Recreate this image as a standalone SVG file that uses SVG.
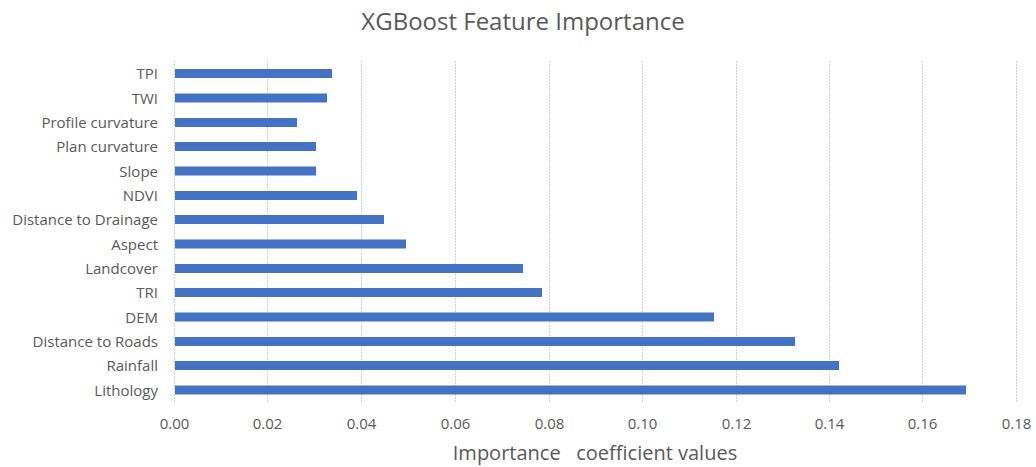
<svg xmlns="http://www.w3.org/2000/svg" width="1036" height="467" viewBox="0 0 1036 467">
<style>
.t{font-family:"Open Sans","Liberation Sans",sans-serif;fill:#595959}
.lbl{font-size:15px;text-anchor:end}
.tick{font-size:15px;text-anchor:middle}
.grid{stroke:#d0d0d0;stroke-width:1;stroke-dasharray:2 1}
.bar{fill:#4472C4}
</style>
<rect width="1036" height="467" fill="#fff"/>
<text class="t" x="523" y="30" font-size="24" text-anchor="middle">XGBoost Feature Importance</text>
<g id="grid">
<line class="grid" x1="174.5" y1="61" x2="174.5" y2="402"/>
<line class="grid" x1="267.5" y1="61" x2="267.5" y2="402"/>
<line class="grid" x1="361.5" y1="61" x2="361.5" y2="402"/>
<line class="grid" x1="455.5" y1="61" x2="455.5" y2="402"/>
<line class="grid" x1="549.5" y1="61" x2="549.5" y2="402"/>
<line class="grid" x1="642.5" y1="61" x2="642.5" y2="402"/>
<line class="grid" x1="736.5" y1="61" x2="736.5" y2="402"/>
<line class="grid" x1="829.5" y1="61" x2="829.5" y2="402"/>
<line class="grid" x1="922.5" y1="61" x2="922.5" y2="402"/>
<line class="grid" x1="1016.5" y1="61" x2="1016.5" y2="402"/>
</g>
<g id="bars">
<rect class="bar" x="175" y="69" width="157" height="9"/>
<rect class="bar" x="175" y="93.5" width="152" height="9"/>
<rect class="bar" x="175" y="118" width="122" height="9"/>
<rect class="bar" x="175" y="142" width="141" height="9"/>
<rect class="bar" x="175" y="166.5" width="141" height="9"/>
<rect class="bar" x="175" y="191" width="182" height="9"/>
<rect class="bar" x="175" y="215" width="209" height="9"/>
<rect class="bar" x="175" y="239.5" width="231" height="9"/>
<rect class="bar" x="175" y="264" width="348" height="9"/>
<rect class="bar" x="175" y="288" width="367" height="9"/>
<rect class="bar" x="175" y="312.5" width="539" height="9"/>
<rect class="bar" x="175" y="337" width="620" height="9"/>
<rect class="bar" x="175" y="361" width="664" height="9"/>
<rect class="bar" x="175" y="385.5" width="791" height="9"/>
</g>
<g id="labels">
<text class="t lbl" x="158" y="79">TPI</text>
<text class="t lbl" x="158" y="103.5">TWI</text>
<text class="t lbl" x="158" y="128">Profile curvature</text>
<text class="t lbl" x="158" y="152">Plan curvature</text>
<text class="t lbl" x="158" y="176.5">Slope</text>
<text class="t lbl" x="158" y="201">NDVI</text>
<text class="t lbl" x="158" y="225">Distance to Drainage</text>
<text class="t lbl" x="158" y="249.5">Aspect</text>
<text class="t lbl" x="158" y="274">Landcover</text>
<text class="t lbl" x="158" y="298">TRI</text>
<text class="t lbl" x="158" y="322.5">DEM</text>
<text class="t lbl" x="158" y="347">Distance to Roads</text>
<text class="t lbl" x="158" y="371">Rainfall</text>
<text class="t lbl" x="158" y="395.5">Lithology</text>
</g>
<g id="ticks">
<text class="t tick" x="174.5" y="429">0.00</text>
<text class="t tick" x="267.5" y="429">0.02</text>
<text class="t tick" x="361.5" y="429">0.04</text>
<text class="t tick" x="455.5" y="429">0.06</text>
<text class="t tick" x="549.5" y="429">0.08</text>
<text class="t tick" x="642.5" y="429">0.10</text>
<text class="t tick" x="736.5" y="429">0.12</text>
<text class="t tick" x="829.5" y="429">0.14</text>
<text class="t tick" x="922.5" y="429">0.16</text>
<text class="t tick" x="1016.5" y="429">0.18</text>
</g>
<text class="t" x="595" y="460" font-size="20" text-anchor="middle" xml:space="preserve" style="white-space:pre">Importance   coefficient values</text>
</svg>
